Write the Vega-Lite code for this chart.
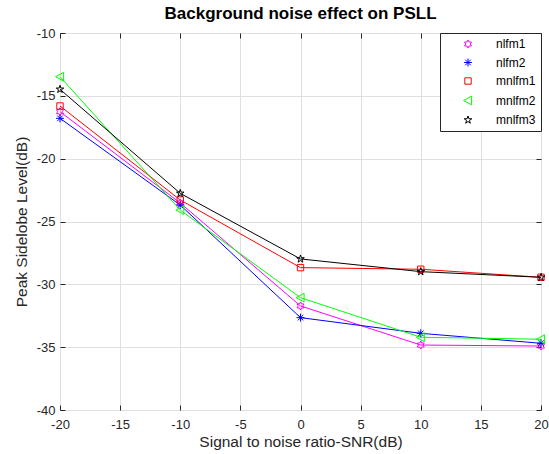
{
  "$schema": "https://vega.github.io/schema/vega-lite/v6.json",
  "width": 481,
  "height": 377,
  "autosize": {"type": "none"},
  "padding": {"left": 60, "top": 33, "right": 8, "bottom": 44},
  "background": "white",
  "title": {"text": "Background noise effect on PSLL", "font": "Liberation Sans", "fontSize": 17, "fontWeight": "bold", "color": "#000000", "offset": 4, "anchor": "middle"},
  "config": {
    "view": {"stroke": "#262626", "strokeWidth": 1},
    "axis": {
      "labelFont": "Liberation Sans", "labelFontSize": 13, "labelColor": "#262626", "labelFlush": false,
      "labelExpr": "'' + datum.value",
      "titleFont": "Liberation Sans", "titleFontSize": 15.5, "titleFontWeight": "normal", "titleColor": "#262626",
      "domain": false, "gridColor": "#dfdfdf", "gridWidth": 1, "tickColor": "#262626", "tickSize": -5
    },
    "legend": {
      "title": null, "orient": "top-right", "offset": 0,
      "strokeColor": "#262626", "fillColor": "white", "padding": 5,
      "labelFont": "Liberation Sans", "labelFontSize": 12, "labelColor": "#000000",
      "symbolSize": 64, "symbolStrokeWidth": 1, "rowPadding": 6.5,
      "symbolOffset": 17, "labelOffset": 22
    }
  },
  "data": {"values": [
    {"snr": -20, "psll": -16.26, "series": "nlfm1"},
    {"snr": -10, "psll": -23.53, "series": "nlfm1"},
    {"snr": 0, "psll": -31.72, "series": "nlfm1"},
    {"snr": 10, "psll": -34.83, "series": "nlfm1"},
    {"snr": 20, "psll": -34.91, "series": "nlfm1"},
    {"snr": -20, "psll": -16.79, "series": "nlfm2"},
    {"snr": -10, "psll": -23.69, "series": "nlfm2"},
    {"snr": 0, "psll": -32.65, "series": "nlfm2"},
    {"snr": 10, "psll": -33.90, "series": "nlfm2"},
    {"snr": 20, "psll": -34.69, "series": "nlfm2"},
    {"snr": -20, "psll": -15.81, "series": "mnlfm1"},
    {"snr": -10, "psll": -23.29, "series": "mnlfm1"},
    {"snr": 0, "psll": -28.67, "series": "mnlfm1"},
    {"snr": 10, "psll": -28.80, "series": "mnlfm1"},
    {"snr": 20, "psll": -29.44, "series": "mnlfm1"},
    {"snr": -20, "psll": -13.48, "series": "mnlfm2"},
    {"snr": -10, "psll": -24.09, "series": "mnlfm2"},
    {"snr": 0, "psll": -31.06, "series": "mnlfm2"},
    {"snr": 10, "psll": -34.21, "series": "mnlfm2"},
    {"snr": 20, "psll": -34.37, "series": "mnlfm2"},
    {"snr": -20, "psll": -14.48, "series": "mnlfm3"},
    {"snr": -10, "psll": -22.76, "series": "mnlfm3"},
    {"snr": 0, "psll": -27.98, "series": "mnlfm3"},
    {"snr": 10, "psll": -28.99, "series": "mnlfm3"},
    {"snr": 20, "psll": -29.44, "series": "mnlfm3"}
  ]},
  "resolve": {"axis": {"x": "independent", "y": "independent"}},
  "layer": [
    {"mark": {"type": "line", "strokeWidth": 1},
      "encoding": {
        "x": {"field": "snr", "type": "quantitative", "scale": {"domain": [-20, 20], "nice": false, "zero": false},
          "axis": {"orient": "bottom", "title": "Signal to noise ratio-SNR(dB)", "values": [-20, -15, -10, -5, 0, 5, 10, 15, 20], "labelPadding": 13, "titlePadding": 3}},
        "y": {"field": "psll", "type": "quantitative", "scale": {"domain": [-40, -10], "nice": false, "zero": false},
          "axis": {"orient": "left", "title": "Peak Sidelobe Level(dB)", "values": [-40, -35, -30, -25, -20, -15, -10], "labelPadding": 10, "titlePadding": 7}},
        "color": {"field": "series", "type": "nominal",
          "scale": {"domain": ["nlfm1", "nlfm2", "mnlfm1", "mnlfm2", "mnlfm3"], "range": ["#ff00ff", "#0000ff", "#ff0000", "#00ff00", "#000000"]}}
      }
    },
    {"mark": {"type": "point", "filled": false, "strokeWidth": 1, "size": 64, "opacity": 1},
      "encoding": {
        "x": {"field": "snr", "type": "quantitative",
          "axis": {"orient": "top", "title": null, "labels": false, "grid": false, "values": [-20, -15, -10, -5, 0, 5, 10, 15, 20]}},
        "y": {"field": "psll", "type": "quantitative",
          "axis": {"orient": "right", "title": null, "labels": false, "grid": false, "values": [-40, -35, -30, -25, -20, -15, -10]}},
        "color": {"field": "series", "type": "nominal"},
        "shape": {"field": "series", "type": "nominal",
          "scale": {"domain": ["nlfm1", "nlfm2", "mnlfm1", "mnlfm2", "mnlfm3"],
            "range": [
              "M0,-1L0.289,-0.5L0.866,-0.5L0.577,0L0.866,0.5L0.289,0.5L0,1L-0.289,0.5L-0.866,0.5L-0.577,0L-0.866,-0.5L-0.289,-0.5Z",
              "M0,-1L0,1M-1,0L1,0M-0.7,-0.7L0.7,0.7M-0.7,0.7L0.7,-0.7",
              "M-0.8,-0.8L0.8,-0.8L0.8,0.8L-0.8,0.8Z",
              "M-1.1,0L0.9,-1.1L0.9,1.1Z",
              "M0,-1L0.225,-0.309L0.951,-0.309L0.363,0.118L0.588,0.809L0,0.382L-0.588,0.809L-0.363,0.118L-0.951,-0.309L-0.225,-0.309Z"
            ]}}
      }
    }
  ]
}
